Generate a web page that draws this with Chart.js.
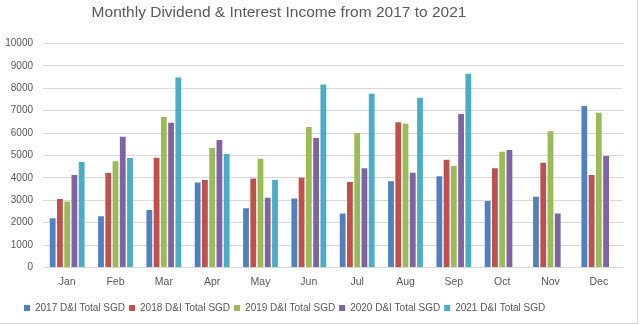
<!DOCTYPE html>
<html>
<head>
<meta charset="utf-8">
<script src="https://cdn.jsdelivr.net/npm/chart.js@4"></script>
<style>
    html, body { margin: 0; padding: 0; background: #fff; }
    .frame { position: relative; width: 637px; height: 323px; border-right: 1px solid #d9d9d9; border-bottom: 1px solid #d9d9d9; }
</style>
</head>
<body>
<div class="frame"><canvas id="incomeChart"></canvas></div>
<script>
const months = ['Jan', 'Feb', 'Mar', 'Apr', 'May', 'Jun', 'Jul', 'Aug', 'Sep', 'Oct', 'Nov', 'Dec'];
const d2017 = [2200, 2290, 2560, 3790, 2640, 3080, 2410, 3850, 4070, 2970, 3160, 7210];
const d2018 = [3060, 4220, 4900, 3910, 3970, 4010, 3820, 6490, 4810, 4430, 4680, 4130];
const d2019 = [2940, 4740, 6720, 5330, 4860, 6270, 6000, 6420, 4530, 5170, 6080, 6910];
const d2020 = [4130, 5840, 6460, 5690, 3110, 5780, 4430, 4230, 6850, 5250, 2410, 4980];
const d2021 = [4710, 4890, 8480, 5070, 3910, 8170, 7760, 7580, 8650, null, null, null];
const seriesNames = ['2017 D&I Total SGD', '2018 D&I Total SGD', '2019 D&I Total SGD', '2020 D&I Total SGD', '2021 D&I Total SGD'];
const seriesColors = ['#4f81bd', '#c0504d', '#9bbb59', '#8064a2', '#4bacc6'];
const titleText = 'Monthly Dividend & Interest Income from 2017 to 2021';

const textColor = '#595959';
const fontFamily = '"Liberation Sans", Arial, sans-serif';

// nudge title and legend like the original sheet
const shiftBlocks = {
    id: 'shiftBlocks',
    afterLayout(chart) {
        chart.titleBlock.left = 0;
        chart.titleBlock.right = 558;
        chart.legend.left = 20;
        chart.legend.top += 3;
    }
};

const ctx = document.getElementById('incomeChart');
new Chart(ctx, {
    type: 'bar',
    data: {
        labels: months,
        datasets: [d2017, d2018, d2019, d2020, d2021].map((data, i) => ({
            label: seriesNames[i],
            data,
            backgroundColor: seriesColors[i],
            categoryPercentage: 0.75,
            barPercentage: 0.8
        }))
    },
    options: {
        responsive: true,
        maintainAspectRatio: false,
        animation: false,
        layout: { padding: { left: 0, right: 14, top: 0, bottom: 3 } },
        plugins: {
            title: {
                display: true,
                text: titleText,
                color: textColor,
                font: { family: fontFamily, size: 15.5, weight: 'normal' },
                padding: { top: 3, bottom: 22 }
            },
            legend: {
                position: 'bottom',
                align: 'start',
                labels: {
                    color: textColor,
                    font: { family: fontFamily, size: 10 },
                    boxWidth: 6,
                    boxHeight: 6,
                    padding: 4
                }
            },
            tooltip: { enabled: false }
        },
        scales: {
            x: {
                grid: { display: false, drawTicks: false },
                border: { display: true, color: '#d9d9d9' },
                ticks: { color: textColor, font: { family: fontFamily, size: 10.5 }, padding: 8 }
            },
            y: {
                min: 0,
                max: 10000,
                afterFit: (scale) => { scale.width = 43; },
                grid: { color: '#d9d9d9', drawTicks: false },
                border: { display: false },
                ticks: {
                    stepSize: 1000,
                    color: textColor,
                    font: { family: fontFamily, size: 10 },
                    padding: 10,
                    callback: (value) => String(value)
                }
            }
        }
    },
    plugins: [shiftBlocks]
});
</script>
</body>
</html>
